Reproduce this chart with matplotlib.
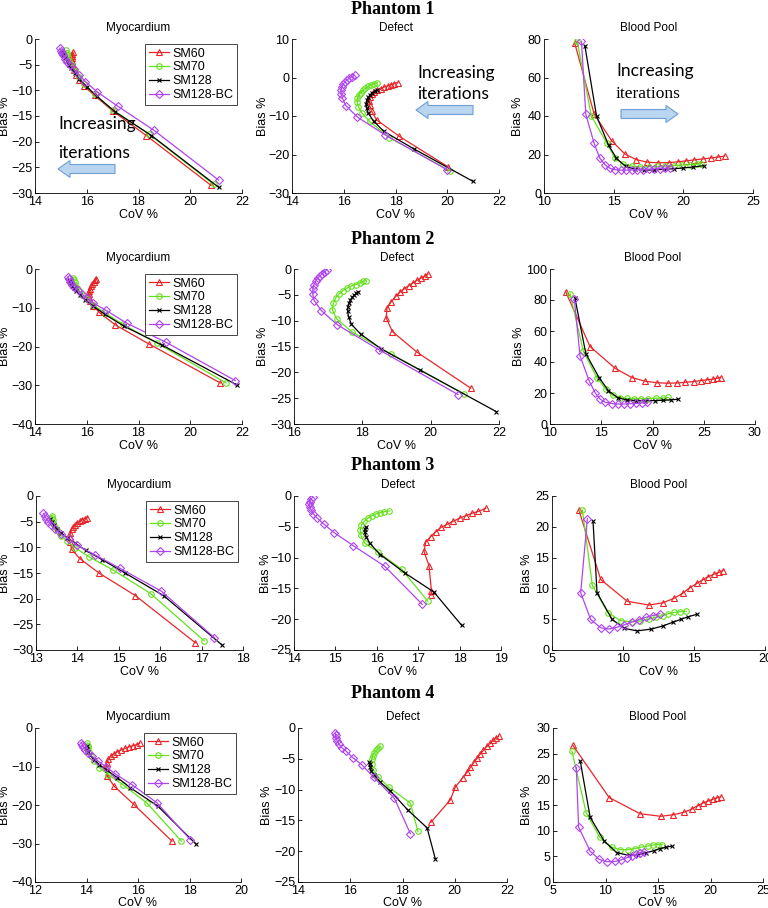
import matplotlib
matplotlib.use("Agg")
import matplotlib.pyplot as plt
from matplotlib.patches import FancyArrow

W, H = 768, 908
series_names = ["SM60", "SM70", "SM128", "SM128-BC"]
colors = ["#e8262a", "#66e01e", "#000000", "#b044ee"]
markers = ["^", "o", "x", "D"]
phantoms = ["Phantom 1", "Phantom 2", "Phantom 3", "Phantom 4"]
regions = ["Myocardium", "Defect", "Blood Pool"]

# ---------------- Phantom 1 ----------------
p1_myo_sm60_x = [20.8, 18.3, 17.0, 16.3, 15.9, 15.7, 15.6, 15.5, 15.45, 15.42, 15.42, 15.42, 15.43, 15.44, 15.45]
p1_myo_sm60_y = [-28.5, -18.8, -14.0, -11.0, -9.2, -8.0, -7.0, -6.0, -5.3, -4.7, -4.2, -3.7, -3.3, -3.0, -2.6]
p1_myo_sm70_x = [20.9, 18.4, 17.0, 16.3, 15.9, 15.7, 15.55, 15.45, 15.38, 15.32, 15.28, 15.25, 15.23, 15.2]
p1_myo_sm70_y = [-28.3, -18.5, -13.8, -10.8, -8.8, -7.4, -6.3, -5.5, -4.8, -4.2, -3.6, -3.1, -2.7, -2.2]
p1_myo_sm128_x = [21.1, 18.5, 17.1, 16.4, 16.0, 15.7, 15.55, 15.4, 15.3, 15.22, 15.15, 15.1, 15.07, 15.05]
p1_myo_sm128_y = [-28.9, -18.8, -14.2, -11.2, -9.3, -7.8, -6.7, -5.7, -5.0, -4.3, -3.7, -3.2, -2.8, -2.4]
p1_myo_bc_x = [21.1, 18.6, 17.2, 16.4, 15.95, 15.7, 15.5, 15.35, 15.25, 15.15, 15.1, 15.05, 15.0, 14.96]
p1_myo_bc_y = [-27.5, -17.8, -13.1, -10.3, -8.3, -7.0, -5.9, -5.1, -4.4, -3.8, -3.2, -2.7, -2.3, -1.8]

p1_def_sm60_x = [20.03, 18.15, 17.27, 17.08, 17.0, 16.98, 17.0, 17.08, 17.18, 17.3, 17.43, 17.56, 17.7, 17.82, 17.95, 18.08]
p1_def_sm60_y = [-23.2, -15.3, -11.0, -8.8, -7.2, -6.0, -5.1, -4.4, -3.8, -3.3, -2.9, -2.5, -2.2, -1.9, -1.6, -1.3]
p1_def_sm70_x = [20.1, 17.75, 17.0, 16.7, 16.57, 16.52, 16.53, 16.58, 16.65, 16.74, 16.84, 16.95, 17.06, 17.18, 17.3]
p1_def_sm70_y = [-24.2, -15.6, -11.4, -9.2, -7.6, -6.4, -5.4, -4.6, -3.9, -3.3, -2.8, -2.3, -1.9, -1.6, -1.4]
p1_def_sm128_x = [21.0, 18.7, 17.55, 17.15, 16.95, 16.88, 16.87, 16.9, 16.95, 17.02, 17.1, 17.2, 17.3]
p1_def_sm128_y = [-27.0, -18.5, -14.0, -11.3, -9.3, -7.9, -6.8, -5.9, -5.1, -4.5, -4.0, -3.6, -3.3]
p1_def_bc_x = [20.0, 17.6, 16.53, 16.08, 15.95, 15.9, 15.9, 15.93, 15.98, 16.05, 16.13, 16.22, 16.32, 16.42]
p1_def_bc_y = [-24.0, -14.9, -10.3, -7.3, -5.4, -4.2, -3.2, -2.4, -1.7, -1.1, -0.6, -0.2, 0.2, 0.6]

p1_bp_sm60_x = [12.2, 13.6, 14.85, 15.8, 16.6, 17.4, 18.2, 19.0, 19.6, 20.2, 20.8, 21.4, 22.0, 22.5, 22.96]
p1_bp_sm60_y = [78.0, 41.0, 27.2, 20.3, 17.4, 16.0, 15.7, 15.8, 16.2, 16.7, 17.2, 17.7, 18.2, 18.7, 19.2]
p1_bp_sm70_x = [12.38, 13.4, 14.5, 15.1, 15.7, 16.3, 16.9, 17.5, 18.1, 18.7, 19.3, 19.9, 20.5, 21.0, 21.3]
p1_bp_sm70_y = [79.0, 40.0, 26.0, 18.0, 15.0, 14.0, 13.6, 13.6, 13.8, 14.0, 14.2, 14.5, 14.7, 15.0, 15.2]
p1_bp_sm128_x = [12.93, 13.77, 14.63, 15.2, 15.85, 16.5, 17.2, 17.9, 18.6, 19.3, 20.0, 20.7, 21.45]
p1_bp_sm128_y = [76.6, 40.0, 24.9, 18.0, 13.8, 12.5, 12.0, 12.0, 12.3, 12.6, 13.0, 13.5, 14.2]
p1_bp_bc_x = [12.69, 13.0, 13.6, 14.0, 14.4, 14.75, 15.1, 15.5, 15.9, 16.3, 16.7, 17.1, 17.5, 17.9, 18.3, 18.7, 19.05]
p1_bp_bc_y = [78.8, 40.9, 25.8, 18.2, 14.5, 12.8, 12.1, 11.9, 11.9, 12.0, 12.1, 12.2, 12.4, 12.5, 12.7, 12.8, 13.0]

# ---------------- Phantom 2 ----------------
p2_myo_sm60_x = [21.16, 18.39, 17.1, 16.48, 16.25, 16.12, 16.08, 16.08, 16.1, 16.13, 16.17, 16.22, 16.28, 16.33, 16.37]
p2_myo_sm60_y = [-29.4, -19.3, -14.4, -11.2, -9.5, -8.3, -7.3, -6.5, -5.8, -5.1, -4.5, -3.9, -3.4, -2.9, -2.5]
p2_myo_sm70_x = [21.38, 18.71, 17.4, 16.7, 16.25, 16.0, 15.82, 15.7, 15.62, 15.56, 15.53, 15.5, 15.48]
p2_myo_sm70_y = [-29.4, -19.1, -14.3, -11.3, -9.3, -7.8, -6.6, -5.6, -4.8, -4.1, -3.4, -2.8, -2.3]
p2_myo_sm128_x = [21.8, 18.9, 17.45, 16.7, 16.25, 15.95, 15.75, 15.6, 15.5, 15.43, 15.38, 15.35, 15.32]
p2_myo_sm128_y = [-29.9, -19.6, -14.8, -11.7, -9.6, -8.0, -6.8, -5.8, -5.0, -4.3, -3.7, -3.2, -2.8]
p2_myo_bc_x = [21.74, 19.06, 17.55, 16.75, 16.26, 16.0, 15.8, 15.65, 15.52, 15.43, 15.37, 15.32, 15.27]
p2_myo_bc_y = [-28.8, -18.9, -14.0, -10.7, -8.8, -7.5, -6.4, -5.5, -4.7, -4.0, -3.3, -2.7, -2.1]

p2_def_sm60_x = [21.17, 19.6, 18.88, 18.7, 18.72, 18.85, 18.98, 19.1, 19.23, 19.36, 19.48, 19.6, 19.71, 19.82, 19.92]
p2_def_sm60_y = [-23.05, -16.1, -12.1, -9.5, -7.6, -6.3, -5.3, -4.5, -3.8, -3.2, -2.7, -2.2, -1.8, -1.4, -1.0]
p2_def_sm70_x = [20.98, 18.83, 17.7, 17.25, 17.12, 17.15, 17.22, 17.32, 17.43, 17.55, 17.67, 17.8, 17.92, 18.03, 18.1]
p2_def_sm70_y = [-24.2, -16.4, -12.2, -9.66, -7.9, -6.6, -5.6, -4.8, -4.2, -3.7, -3.3, -3.0, -2.7, -2.4, -2.25]
p2_def_sm128_x = [21.92, 19.7, 18.56, 17.95, 17.68, 17.6, 17.57, 17.58, 17.61, 17.65, 17.7, 17.76, 17.82, 17.88]
p2_def_sm128_y = [-27.6, -19.6, -15.5, -12.6, -10.7, -9.3, -8.2, -7.3, -6.6, -6.0, -5.5, -5.1, -4.7, -4.4]
p2_def_bc_x = [20.8, 18.48, 17.27, 16.8, 16.59, 16.55, 16.55, 16.58, 16.63, 16.69, 16.76, 16.83, 16.9, 16.97]
p2_def_bc_y = [-24.3, -15.6, -10.8, -8.05, -6.1, -4.9, -3.9, -3.1, -2.4, -1.8, -1.3, -0.9, -0.5, -0.1]

p2_bp_sm60_x = [11.53, 13.9, 16.34, 17.97, 19.27, 20.47, 21.5, 22.4, 23.2, 24.0, 24.7, 25.3, 25.9, 26.3, 26.65]
p2_bp_sm60_y = [85.4, 50.0, 36.0, 30.0, 27.6, 26.6, 26.3, 26.5, 26.9, 27.4, 28.0, 28.5, 29.0, 29.5, 30.0]
p2_bp_sm70_x = [11.95, 13.25, 14.6, 15.46, 16.1, 16.8, 17.5, 18.2, 18.9, 19.6, 20.3, 21.0, 21.55]
p2_bp_sm70_y = [84.0, 47.0, 29.6, 22.5, 18.5, 17.0, 16.5, 16.3, 16.3, 16.4, 16.6, 16.8, 17.1]
p2_bp_sm128_x = [12.44, 13.5, 14.78, 15.7, 16.6, 17.5, 18.4, 19.3, 20.2, 21.0, 21.8, 22.5]
p2_bp_sm128_y = [81.0, 45.3, 30.0, 21.5, 17.0, 15.5, 15.1, 15.0, 15.1, 15.3, 15.6, 16.0]
p2_bp_bc_x = [12.37, 12.93, 13.84, 14.42, 14.9, 15.4, 16.0, 16.6, 17.2, 17.8, 18.4, 19.0, 19.45]
p2_bp_bc_y = [80.5, 44.0, 27.5, 20.0, 16.0, 14.0, 13.2, 12.9, 12.9, 13.1, 13.3, 13.6, 13.9]

# ---------------- Phantom 3 ----------------
p3_myo_sm60_x = [16.85, 15.4, 14.52, 14.06, 13.86, 13.82, 13.81, 13.83, 13.86, 13.9, 13.95, 14.0, 14.06, 14.12, 14.18, 14.24]
p3_myo_sm60_y = [-28.6, -19.4, -15.0, -12.2, -10.4, -9.0, -8.0, -7.2, -6.5, -6.0, -5.6, -5.2, -4.9, -4.6, -4.4, -4.2]
p3_myo_sm70_x = [17.06, 15.77, 14.87, 14.29, 13.95, 13.75, 13.6, 13.52, 13.46, 13.42, 13.4, 13.39, 13.38]
p3_myo_sm70_y = [-28.2, -19.0, -14.45, -11.9, -10.1, -8.8, -7.7, -6.8, -6.0, -5.3, -4.7, -4.2, -3.8]
p3_myo_sm128_x = [17.49, 16.08, 15.15, 14.6, 14.2, 13.95, 13.75, 13.6, 13.5, 13.43, 13.38, 13.34]
p3_myo_sm128_y = [-29.0, -19.4, -15.0, -12.4, -10.6, -9.2, -8.1, -7.2, -6.4, -5.7, -5.1, -4.5]
p3_myo_bc_x = [17.31, 16.02, 15.03, 14.43, 14.0, 13.8, 13.6, 13.46, 13.37, 13.3, 13.25, 13.21, 13.18]
p3_myo_bc_y = [-27.6, -18.5, -14.1, -11.5, -9.6, -8.4, -7.4, -6.5, -5.7, -5.0, -4.4, -3.9, -3.4]

p3_def_sm60_x = [17.31, 17.32, 17.26, 17.14, 17.18, 17.3, 17.42, 17.55, 17.7, 17.85, 18.0, 18.15, 18.3, 18.45, 18.63]
p3_def_sm60_y = [-16.1, -15.4, -11.3, -9.0, -7.5, -6.6, -5.8, -5.1, -4.6, -4.1, -3.6, -3.2, -2.8, -2.5, -2.0]
p3_def_sm70_x = [17.23, 16.6, 16.03, 15.71, 15.62, 15.6, 15.63, 15.7, 15.78, 15.88, 15.98, 16.08, 16.18, 16.3]
p3_def_sm70_y = [-17.06, -11.9, -9.1, -7.67, -6.4, -5.5, -4.7, -4.1, -3.6, -3.2, -2.9, -2.7, -2.55, -2.45]
p3_def_sm128_x = [18.05, 17.38, 16.68, 16.08, 15.83, 15.74, 15.71, 15.72, 15.74]
p3_def_sm128_y = [-21.0, -15.6, -12.5, -9.5, -7.67, -6.6, -5.9, -5.4, -5.0]
p3_def_bc_x = [17.1, 16.19, 15.43, 14.97, 14.73, 14.56, 14.47, 14.42, 14.38, 14.37, 14.38, 14.41, 14.45]
p3_def_bc_y = [-17.6, -11.4, -8.05, -5.95, -4.6, -3.6, -2.9, -2.3, -1.8, -1.3, -0.9, -0.5, -0.2]

p3_bp_sm60_x = [6.88, 8.43, 10.3, 11.83, 12.82, 13.6, 14.2, 14.7, 15.2, 15.6, 16.0, 16.4, 16.75, 17.04]
p3_bp_sm60_y = [22.8, 11.45, 7.9, 7.3, 7.67, 8.4, 9.2, 10.1, 10.8, 11.4, 11.9, 12.3, 12.6, 12.9]
p3_bp_sm70_x = [7.14, 7.84, 8.94, 9.84, 10.6, 11.2, 11.8, 12.3, 12.8, 13.2, 13.6, 14.0, 14.46]
p3_bp_sm70_y = [22.7, 10.5, 6.05, 4.75, 4.6, 4.7, 5.0, 5.3, 5.6, 5.9, 6.1, 6.2, 6.3]
p3_bp_sm128_x = [7.89, 8.17, 9.23, 10.1, 11.0, 12.0, 12.8, 13.5, 14.1, 14.6, 15.2]
p3_bp_sm128_y = [20.9, 9.3, 4.97, 3.5, 3.1, 3.4, 3.9, 4.5, 5.0, 5.4, 5.8]
p3_bp_bc_x = [7.49, 7.02, 7.72, 8.43, 9.01, 9.6, 10.1, 10.6, 11.1, 11.6, 12.1, 12.58]
p3_bp_bc_y = [21.3, 9.3, 4.97, 3.6, 3.4, 3.7, 4.1, 4.5, 4.9, 5.3, 5.6, 5.9]

# ---------------- Phantom 4 ----------------
p4_myo_sm60_x = [17.32, 15.83, 15.07, 14.81, 14.75, 14.78, 14.85, 14.95, 15.07, 15.2, 15.35, 15.5, 15.65, 15.8, 15.95, 16.06]
p4_myo_sm60_y = [-29.4, -19.8, -15.1, -12.5, -10.2, -9.0, -8.1, -7.3, -6.7, -6.2, -5.7, -5.3, -4.9, -4.6, -4.3, -4.0]
p4_myo_sm70_x = [17.68, 16.35, 15.41, 14.85, 14.5, 14.3, 14.18, 14.1, 14.06, 14.04, 14.02]
p4_myo_sm70_y = [-29.35, -19.5, -14.7, -12.1, -10.3, -8.6, -7.3, -6.2, -5.3, -4.6, -3.9]
p4_myo_sm128_x = [18.26, 16.77, 15.7, 15.2, 14.8, 14.5, 14.3, 14.15, 14.07, 14.03, 14.0]
p4_myo_sm128_y = [-30.2, -20.3, -15.5, -12.9, -11.0, -9.5, -8.2, -7.1, -6.2, -5.4, -4.6]
p4_myo_bc_x = [18.03, 16.73, 15.76, 15.11, 14.75, 14.45, 14.22, 14.05, 13.95, 13.88, 13.84, 13.8]
p4_myo_bc_y = [-29.0, -19.4, -14.7, -11.9, -10.0, -8.6, -7.4, -6.4, -5.6, -4.9, -4.3, -3.8]

p4_def_sm60_x = [19.09, 19.83, 20.02, 20.3, 20.47, 20.6, 20.73, 20.86, 20.98, 21.1, 21.22, 21.35, 21.47, 21.58, 21.68]
p4_def_sm60_y = [-15.3, -11.67, -9.6, -8.1, -7.2, -6.4, -5.6, -4.9, -4.2, -3.6, -3.0, -2.5, -2.0, -1.6, -1.35]
p4_def_sm70_x = [18.59, 18.3, 17.47, 17.06, 16.88, 16.82, 16.82, 16.86, 16.92, 17.0, 17.08, 17.15]
p4_def_sm70_y = [-16.77, -12.2, -9.6, -7.9, -6.8, -5.9, -5.1, -4.5, -4.0, -3.6, -3.3, -3.0]
p4_def_sm128_x = [19.26, 18.94, 18.2, 17.53, 17.15, 16.92, 16.8, 16.76, 16.74, 16.73]
p4_def_sm128_y = [-21.3, -16.2, -13.3, -10.2, -8.8, -7.6, -6.9, -6.3, -5.9, -5.6]
p4_def_bc_x = [18.3, 17.69, 16.9, 16.45, 16.09, 15.85, 15.68, 15.57, 15.5, 15.46, 15.44, 15.43]
p4_def_bc_y = [-17.15, -11.4, -8.0, -6.0, -4.8, -3.8, -3.2, -2.6, -2.1, -1.6, -1.2, -0.8]

p4_bp_sm60_x = [6.9, 10.35, 13.29, 15.25, 16.45, 17.5, 18.2, 18.8, 19.3, 19.8, 20.2, 20.6, 20.98]
p4_bp_sm60_y = [26.6, 16.45, 13.3, 12.8, 13.1, 13.6, 14.2, 14.9, 15.4, 15.8, 16.1, 16.4, 16.6]
p4_bp_sm70_x = [6.8, 8.16, 9.43, 10.6, 11.4, 12.1, 12.8, 13.4, 14.0, 14.5, 15.0, 15.4]
p4_bp_sm70_y = [25.5, 13.5, 8.77, 6.77, 6.3, 6.3, 6.5, 6.8, 7.0, 7.2, 7.3, 7.3]
p4_bp_sm128_x = [7.6, 8.54, 9.9, 11.08, 12.2, 13.1, 13.9, 14.6, 15.2, 15.8, 16.3]
p4_bp_sm128_y = [23.5, 12.6, 7.9, 5.7, 5.2, 5.3, 5.7, 6.1, 6.5, 6.8, 7.0]
p4_bp_bc_x = [7.22, 7.44, 8.54, 9.4, 10.13, 10.9, 11.5, 12.0, 12.5, 12.9, 13.3, 13.7]
p4_bp_bc_y = [22.3, 10.7, 6.0, 4.4, 3.94, 4.0, 4.3, 4.7, 5.1, 5.4, 5.7, 5.9]

panels = [
    [[(p1_myo_sm60_x, p1_myo_sm60_y), (p1_myo_sm70_x, p1_myo_sm70_y), (p1_myo_sm128_x, p1_myo_sm128_y), (p1_myo_bc_x, p1_myo_bc_y)],
     [(p1_def_sm60_x, p1_def_sm60_y), (p1_def_sm70_x, p1_def_sm70_y), (p1_def_sm128_x, p1_def_sm128_y), (p1_def_bc_x, p1_def_bc_y)],
     [(p1_bp_sm60_x, p1_bp_sm60_y), (p1_bp_sm70_x, p1_bp_sm70_y), (p1_bp_sm128_x, p1_bp_sm128_y), (p1_bp_bc_x, p1_bp_bc_y)]],
    [[(p2_myo_sm60_x, p2_myo_sm60_y), (p2_myo_sm70_x, p2_myo_sm70_y), (p2_myo_sm128_x, p2_myo_sm128_y), (p2_myo_bc_x, p2_myo_bc_y)],
     [(p2_def_sm60_x, p2_def_sm60_y), (p2_def_sm70_x, p2_def_sm70_y), (p2_def_sm128_x, p2_def_sm128_y), (p2_def_bc_x, p2_def_bc_y)],
     [(p2_bp_sm60_x, p2_bp_sm60_y), (p2_bp_sm70_x, p2_bp_sm70_y), (p2_bp_sm128_x, p2_bp_sm128_y), (p2_bp_bc_x, p2_bp_bc_y)]],
    [[(p3_myo_sm60_x, p3_myo_sm60_y), (p3_myo_sm70_x, p3_myo_sm70_y), (p3_myo_sm128_x, p3_myo_sm128_y), (p3_myo_bc_x, p3_myo_bc_y)],
     [(p3_def_sm60_x, p3_def_sm60_y), (p3_def_sm70_x, p3_def_sm70_y), (p3_def_sm128_x, p3_def_sm128_y), (p3_def_bc_x, p3_def_bc_y)],
     [(p3_bp_sm60_x, p3_bp_sm60_y), (p3_bp_sm70_x, p3_bp_sm70_y), (p3_bp_sm128_x, p3_bp_sm128_y), (p3_bp_bc_x, p3_bp_bc_y)]],
    [[(p4_myo_sm60_x, p4_myo_sm60_y), (p4_myo_sm70_x, p4_myo_sm70_y), (p4_myo_sm128_x, p4_myo_sm128_y), (p4_myo_bc_x, p4_myo_bc_y)],
     [(p4_def_sm60_x, p4_def_sm60_y), (p4_def_sm70_x, p4_def_sm70_y), (p4_def_sm128_x, p4_def_sm128_y), (p4_def_bc_x, p4_def_bc_y)],
     [(p4_bp_sm60_x, p4_bp_sm60_y), (p4_bp_sm70_x, p4_bp_sm70_y), (p4_bp_sm128_x, p4_bp_sm128_y), (p4_bp_bc_x, p4_bp_bc_y)]],
]

# axis ranges and ticks (xmin, xmax, xstep, ymin, ymax, ystep)
limits = [
    [(14, 22, 2, -30, 0, 5), (14, 22, 2, -30, 10, 10), (10, 25, 5, 0, 80, 20)],
    [(14, 22, 2, -40, 0, 10), (16, 22, 2, -30, 0, 5), (10, 30, 5, 0, 100, 20)],
    [(13, 18, 1, -30, 0, 5), (14, 19, 1, -25, 0, 5), (5, 20, 5, 0, 25, 5)],
    [(12, 20, 2, -40, 0, 10), (14, 22, 2, -25, 0, 5), (5, 25, 5, 0, 30, 5)],
]

# axes pixel boxes: (left, right) per column, (top, bottom) per row
col_lr = [
    [(35, 242), (292, 499), (544, 753)],
    [(35, 242), (294, 499), (550, 755)],
    [(36, 243), (294, 501), (552, 765)],
    [(35, 241), (298, 507), (553, 763)],
]
row_tb = [(39, 193), (269, 424), (496, 650), (728, 882)]
# pixel offset of the y-label's right edge from the axes' left edge
ylabel_off = [
    [-24, -23, -20],
    [-24, -25, -25],
    [-25, -22, -19],
    [-24, -25, -20],
]
xlabel_pad = [1, 1, 1, 0]
phantom_y = [10, 240, 465, 693]

plt.rcParams['font.family'] = ['Liberation Sans', 'DejaVu Sans']

fig = plt.figure(figsize=(W / 100, H / 100), dpi=100)
fig.patch.set_facecolor('white')

for r in range(4):
    top, bot = row_tb[r]
    for c in range(3):
        left, right = col_lr[r][c]
        wpx = right - left
        ax = fig.add_axes([left / W, 1 - bot / H, wpx / W, (bot - top) / H])
        xmin, xmax, xs, ymin, ymax, ys = limits[r][c]
        for k, (xs_, ys_) in enumerate(panels[r][c]):
            mk = markers[k]
            ms = 4 if mk != "x" else 3.5
            ax.plot(xs_, ys_, color=colors[k], marker=mk, markersize=ms,
                    markerfacecolor='none', markeredgewidth=0.8, linewidth=0.9,
                    label=series_names[k])
        ax.set_xlim(xmin, xmax)
        ax.set_ylim(ymin, ymax)
        ax.set_xticks(list(range(xmin, xmax + 1, xs)))
        ax.set_yticks(list(range(ymin, ymax + 1, ys)))
        ax.spines['top'].set_visible(False)
        ax.spines['right'].set_visible(False)
        for s in ('left', 'bottom'):
            ax.spines[s].set_linewidth(0.6)
        ax.tick_params(direction='in', length=3, width=0.6, labelsize=9, pad=2)
        ax.set_xlabel("CoV %", fontsize=9, labelpad=xlabel_pad[r])
        ax.set_ylabel("Bias %", fontsize=9)
        ax.yaxis.set_label_coords(ylabel_off[r][c] / wpx, 0.5)
        ax.set_title(regions[c], fontsize=8.5, pad=6)
        ax.patch.set_alpha(0)
        if c == 0:
            leg = ax.legend(loc='upper right', bbox_to_anchor=(0.99, 0.985), fontsize=9,
                            fancybox=False, framealpha=1, edgecolor='#444444',
                            handlelength=1.6, handletextpad=0.3, labelspacing=0.15,
                            borderpad=0.3, borderaxespad=0.2)
            leg.get_frame().set_linewidth(0.7)
    fig.text(393 / W, 1 - phantom_y[r] / H, phantoms[r], ha='center', va='center',
             fontsize=13, fontweight='bold', family=['Liberation Serif', 'DejaVu Serif'])

# overlay for annotations in pixel coords
ov = fig.add_axes([0, 0, 1, 1], zorder=10)
ov.set_xlim(0, W)
ov.set_ylim(H, 0)
ov.axis('off')
ov.patch.set_alpha(0)

arrow_fc = '#b9d5f0'
arrow_ec = '#6e9fd6'
annots = [
    (58, 116, 145, 115, 169, -57),
    (417, 65, 86, 473, 110, -57),
    (616, 63, 86, 621, 114, 57),
]
for i, (tx, ty1, ty2, ax0, ay, dx) in enumerate(annots):
    ov.text(tx, ty1, "Increasing", fontsize=12.5, family=['Lato', 'DejaVu Sans'], va='top', ha='left')
    fam2 = ['Liberation Serif', 'DejaVu Serif'] if i == 2 else ['Lato', 'DejaVu Sans']
    ov.text(tx, ty2, "iterations", fontsize=12.5, family=fam2, va='top', ha='left')
    ov.add_patch(FancyArrow(ax0, ay, dx, 0, width=9, head_width=17, head_length=12,
                            length_includes_head=True, facecolor=arrow_fc,
                            edgecolor=arrow_ec, linewidth=0.8))

fig.savefig("out.png", dpi=100)
